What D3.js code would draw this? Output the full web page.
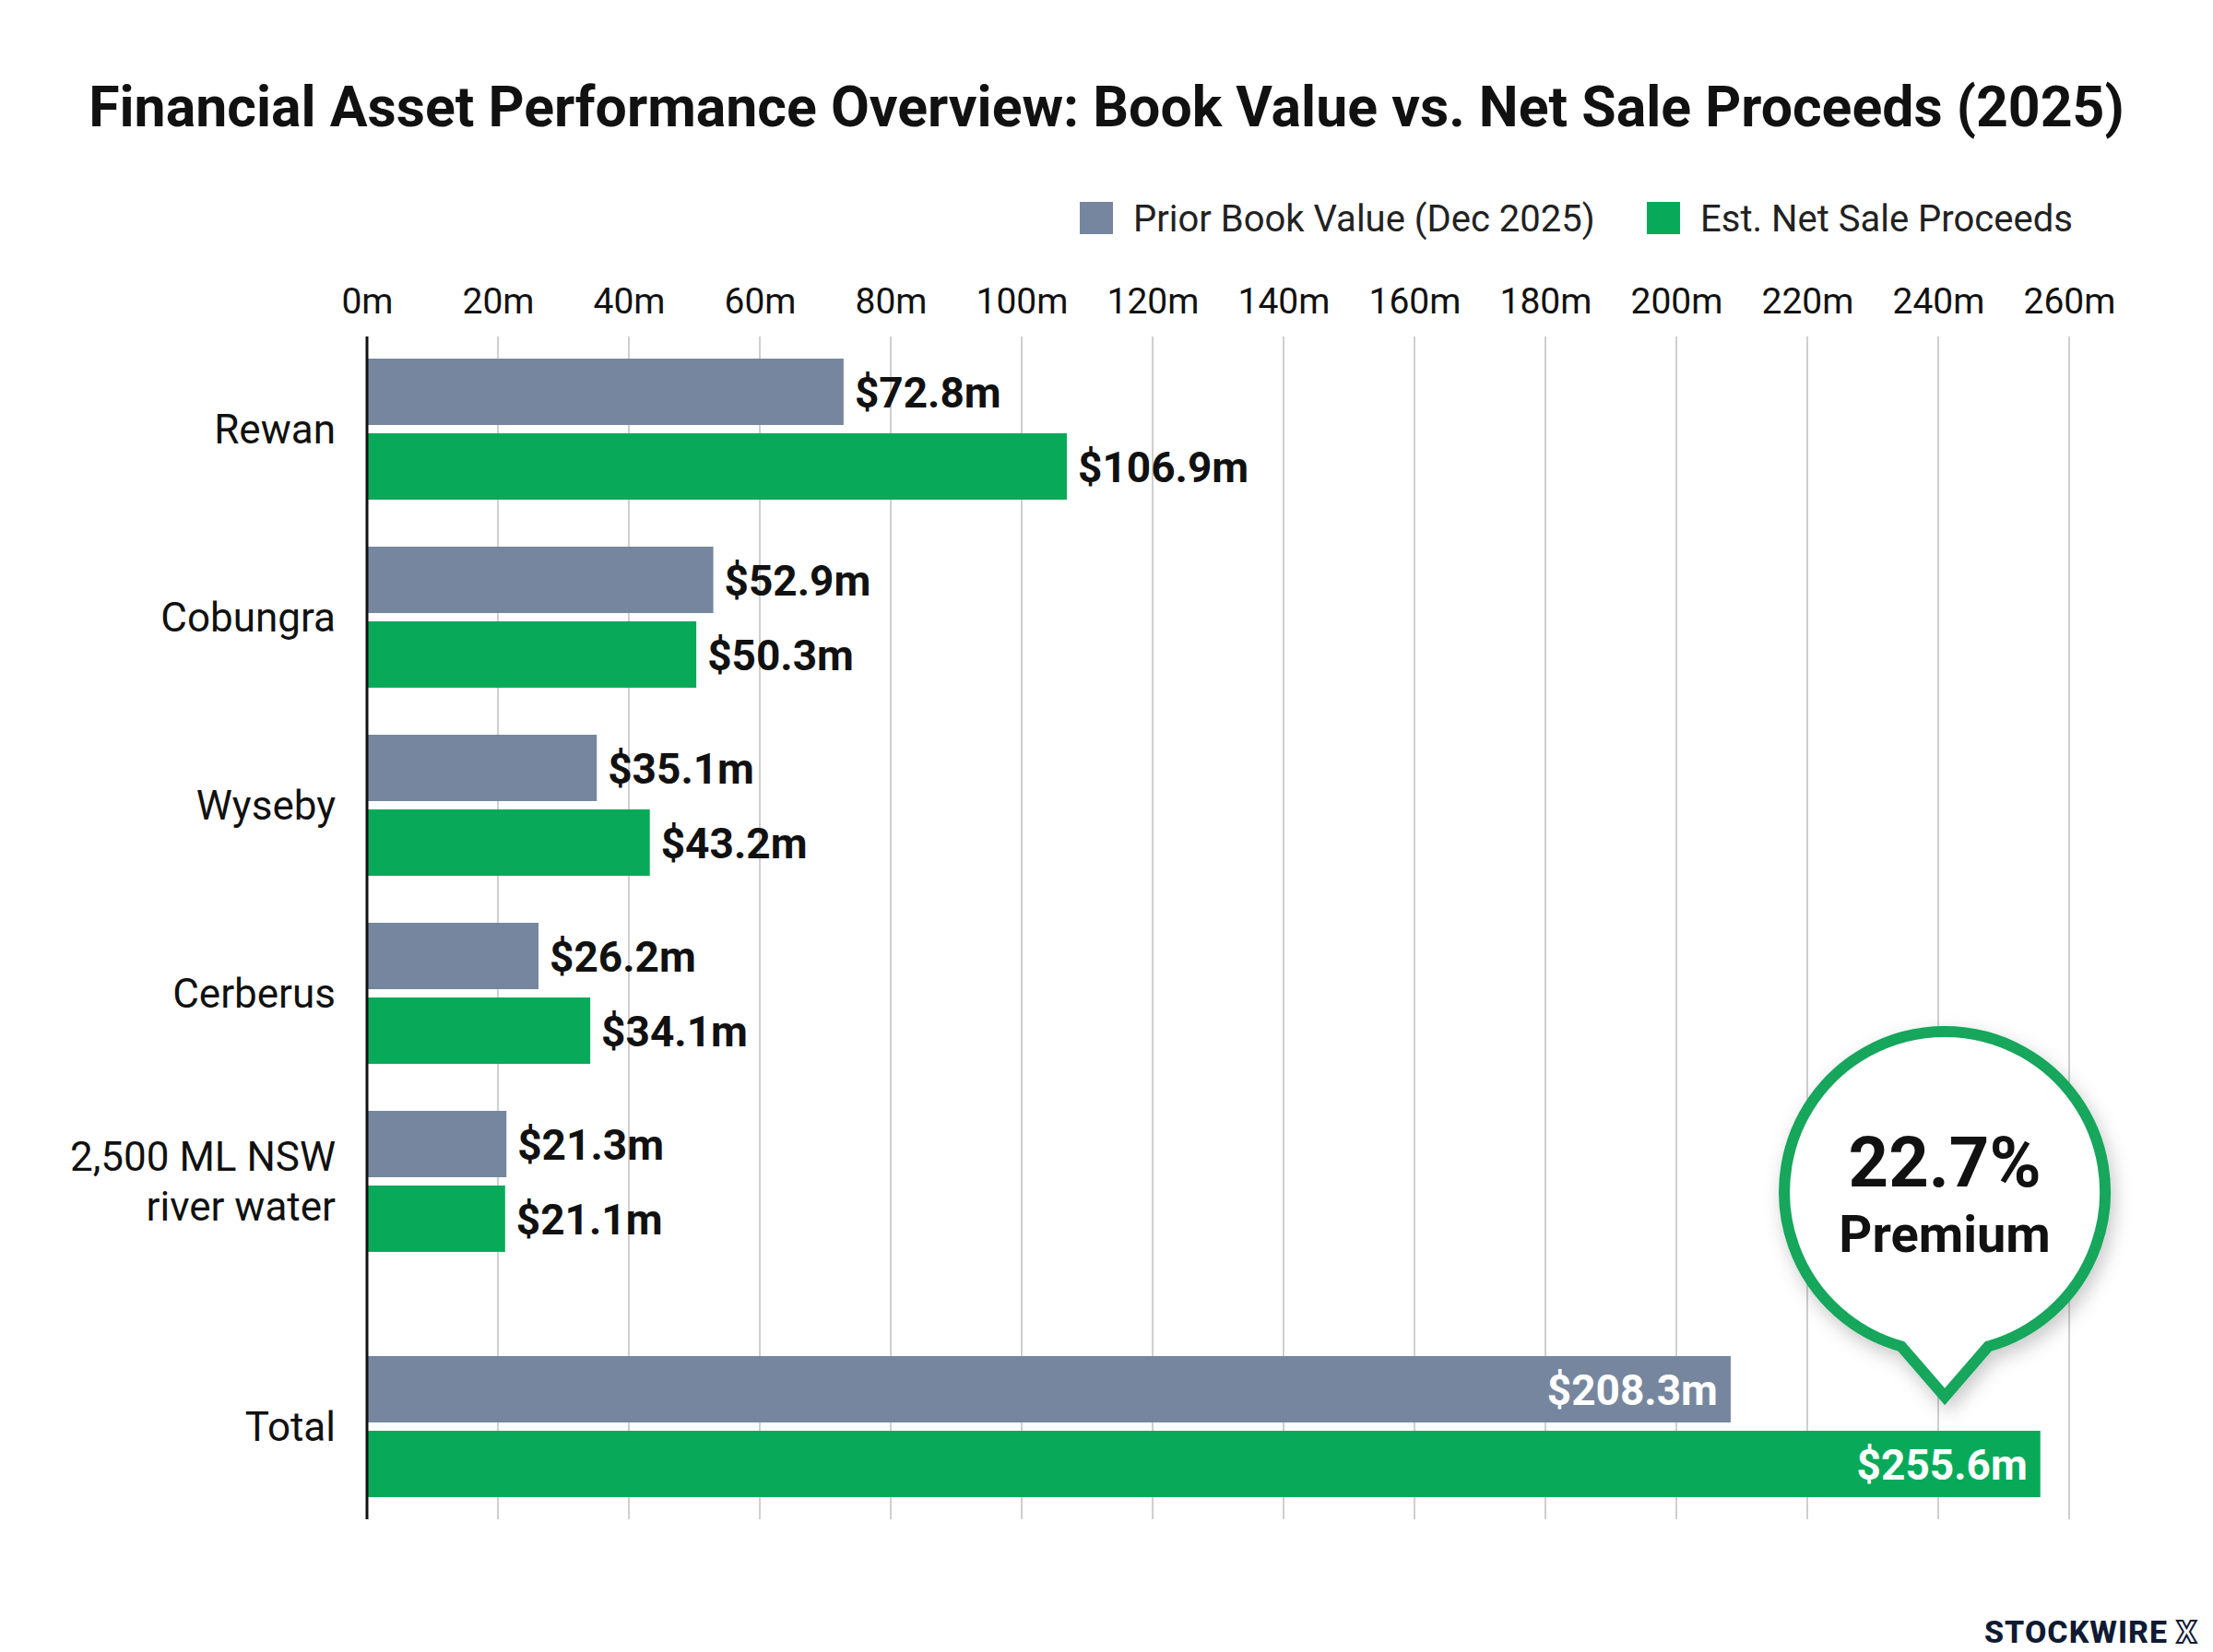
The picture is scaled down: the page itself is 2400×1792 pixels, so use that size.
<!DOCTYPE html>
<meta charset="utf-8">
<style>
    body { margin: 0; background: #fff; }
    text { font-family: Roboto, "Noto Sans", sans-serif; }
</style>
<body>

<script src="https://d3js.org/d3.v7.min.js"></script>
<script>
    var categories = ["Rewan", "Cobungra", "Wyseby", "Cerberus", "2,500 ML NSW river water", "Total"];
    var priorBook = [72.8, 52.9, 35.1, 26.2, 21.3, 208.3];
    var netProceeds = [106.9, 50.3, 43.2, 34.1, 21.1, 255.6];
    var seriesNames = ["Prior Book Value (Dec 2025)", "Est. Net Sale Proceeds"];
    var tickValues = [0, 20, 40, 60, 80, 100, 120, 140, 160, 180, 200, 220, 240, 260];
    var premiumLabel = ["22.7%", "Premium"];

    var W = 2400, H = 1792;
    var gray = "#76869f", green = "#08aa5a", ringGreen = "#17a65c";

    var svg = d3.select("body").append("svg")
        .attr("width", W)
        .attr("height", H);

    var defs = svg.append("defs");
    var shadow = defs.append("filter").attr("id", "shadow")
        .attr("x", "-30%").attr("y", "-30%").attr("width", "160%").attr("height", "160%");
    shadow.append("feDropShadow")
        .attr("dx", 4).attr("dy", 8).attr("stdDeviation", 10)
        .attr("flood-color", "#000").attr("flood-opacity", 0.22);

    // title
    var title = svg.append("text")
        .attr("x", W / 2)
        .attr("y", 137)
        .attr("text-anchor", "middle")
        .attr("font-weight", 700)
        .attr("font-size", 60)
        .attr("fill", "#111")
        .text("Financial Asset Performance Overview: Book Value vs. Net Sale Proceeds (2025)");
    var tw = title.node().getComputedTextLength();
    title.attr("font-size", 60 * 2208 / tw);

    // legend
    var legendX = [1171, 1786];
    seriesNames.forEach(function(name, i) {
        var g = svg.append("g").attr("transform", "translate(" + legendX[i] + ",219)");
        g.append("rect").attr("width", 36).attr("height", 35).attr("fill", i ? green : gray);
        g.append("text").attr("x", 58).attr("y", 18).attr("dy", "0.35em")
            .attr("font-size", 40).attr("fill", "#222").text(name);
    });

    var x = d3.scaleLinear().domain([0, 260]).range([398, 2244]);
    var plotTop = 365, plotBottom = 1648;
    var totalGap = 62;

    var y = d3.scaleBand()
        .domain(categories)
        .range([363.5, 363.5 + categories.length * 204])
        .paddingInner(0.25)
        .paddingOuter(0.125);
    var ySub = d3.scaleBand()
        .domain([0, 1])
        .range([0, y.bandwidth()])
        .paddingInner(1 / 9);

    function rowY(c) {
        return y(c) + (c === "Total" ? totalGap : 0);
    }

    // gridlines
    svg.append("g").selectAll("line")
        .data(tickValues.slice(1))
        .join("line")
        .attr("x1", d => x(d)).attr("x2", d => x(d))
        .attr("y1", plotTop).attr("y2", plotBottom)
        .attr("stroke", "#cfcfcf")
        .attr("stroke-width", 2);

    // top axis
    var axis = svg.append("g")
        .attr("transform", "translate(0," + plotTop + ")")
        .call(d3.axisTop(x).tickValues(tickValues).tickFormat(d => d + "m").tickSize(0).tickPadding(25));
    axis.select(".domain").remove();
    axis.selectAll("text")
        .attr("font-family", "Roboto, sans-serif")
        .attr("font-size", 39)
        .attr("fill", "#111");

    // bars
    var rows = categories.map((c, i) => ({cat: c, values: [priorBook[i], netProceeds[i]]}));

    var row = svg.append("g").selectAll("g")
        .data(rows)
        .join("g")
        .attr("transform", d => "translate(0," + rowY(d.cat) + ")");

    row.selectAll("rect")
        .data(d => d.values.map((v, k) => ({v: v, k: k, total: d.cat === "Total"})))
        .join("rect")
        .attr("x", x(0))
        .attr("y", d => ySub(d.k))
        .attr("width", d => x(d.v) - x(0))
        .attr("height", ySub.bandwidth())
        .attr("fill", d => d.k ? green : gray);

    row.selectAll("text.val")
        .data(d => d.values.map((v, k) => ({v: v, k: k, total: d.cat === "Total"})))
        .join("text")
        .attr("class", "val")
        .attr("x", d => d.total ? x(d.v) - 14 : x(d.v) + 12)
        .attr("y", d => ySub(d.k) + ySub.bandwidth() / 2)
        .attr("dy", "0.36em")
        .attr("text-anchor", d => d.total ? "end" : "start")
        .attr("font-weight", 700)
        .attr("font-size", 46)
        .attr("fill", d => d.total ? "#fff" : "#111")
        .text(d => "$" + d.v.toFixed(1) + "m");

    // category labels
    row.each(function(d) {
        var g = d3.select(this);
        var mid = y.bandwidth() / 2;
        var lines = d.cat === "2,500 ML NSW river water" ? ["2,500 ML NSW", "river water"] : [d.cat];
        var t = g.append("text")
            .attr("x", 364)
            .attr("text-anchor", "end")
            .attr("font-size", 44)
            .attr("fill", "#111");
        lines.forEach(function(l, j) {
            t.append("tspan")
                .attr("x", 364)
                .attr("y", mid + (j - (lines.length - 1) / 2) * 54)
                .attr("dy", "0.36em")
                .text(l);
        });
    });

    // axis line
    svg.append("line")
        .attr("x1", x(0)).attr("x2", x(0))
        .attr("y1", plotTop).attr("y2", plotBottom)
        .attr("stroke", "#111")
        .attr("stroke-width", 3);

    // premium callout
    var cx = x(241), cy = rowY("Total") - 178, r = 174;
    var tipY = rowY("Total") + 44;
    var a = 15.7 * Math.PI / 180;
    var rx = cx + r * Math.sin(a), lx = cx - r * Math.sin(a), jy = cy + r * Math.cos(a);
    var bubble = "M" + rx + "," + jy +
        " A" + r + "," + r + " 0 1 0 " + lx + "," + jy +
        " L" + cx + "," + tipY + " Z";
    svg.append("path")
        .attr("d", bubble)
        .attr("fill", "#fff")
        .attr("stroke", ringGreen)
        .attr("stroke-width", 12)
        .attr("stroke-linejoin", "miter")
        .attr("filter", "url(#shadow)");
    svg.append("text")
        .attr("x", cx).attr("y", cy - 6)
        .attr("text-anchor", "middle")
        .attr("font-weight", 700)
        .attr("font-size", 76)
        .attr("fill", "#111")
        .text(premiumLabel[0]);
    svg.append("text")
        .attr("x", cx).attr("y", cy + 65)
        .attr("text-anchor", "middle")
        .attr("font-weight", 700)
        .attr("font-size", 56)
        .attr("fill", "#111")
        .text(premiumLabel[1]);

    // brand mark
    var brand = svg.append("text")
        .attr("x", 2152).attr("y", 1782)
        .attr("font-family", "Inter, sans-serif")
        .attr("font-weight", 800)
        .attr("font-size", 34)
        .attr("letter-spacing", 1)
        .attr("fill", "#0f1a33");
    brand.append("tspan").text("STOCKWIRE ");
    brand.append("tspan")
        .attr("fill", "#fff")
        .attr("stroke", "#0f1a33")
        .attr("stroke-width", 2)
        .text("X");
</script>

</body>
</html>
